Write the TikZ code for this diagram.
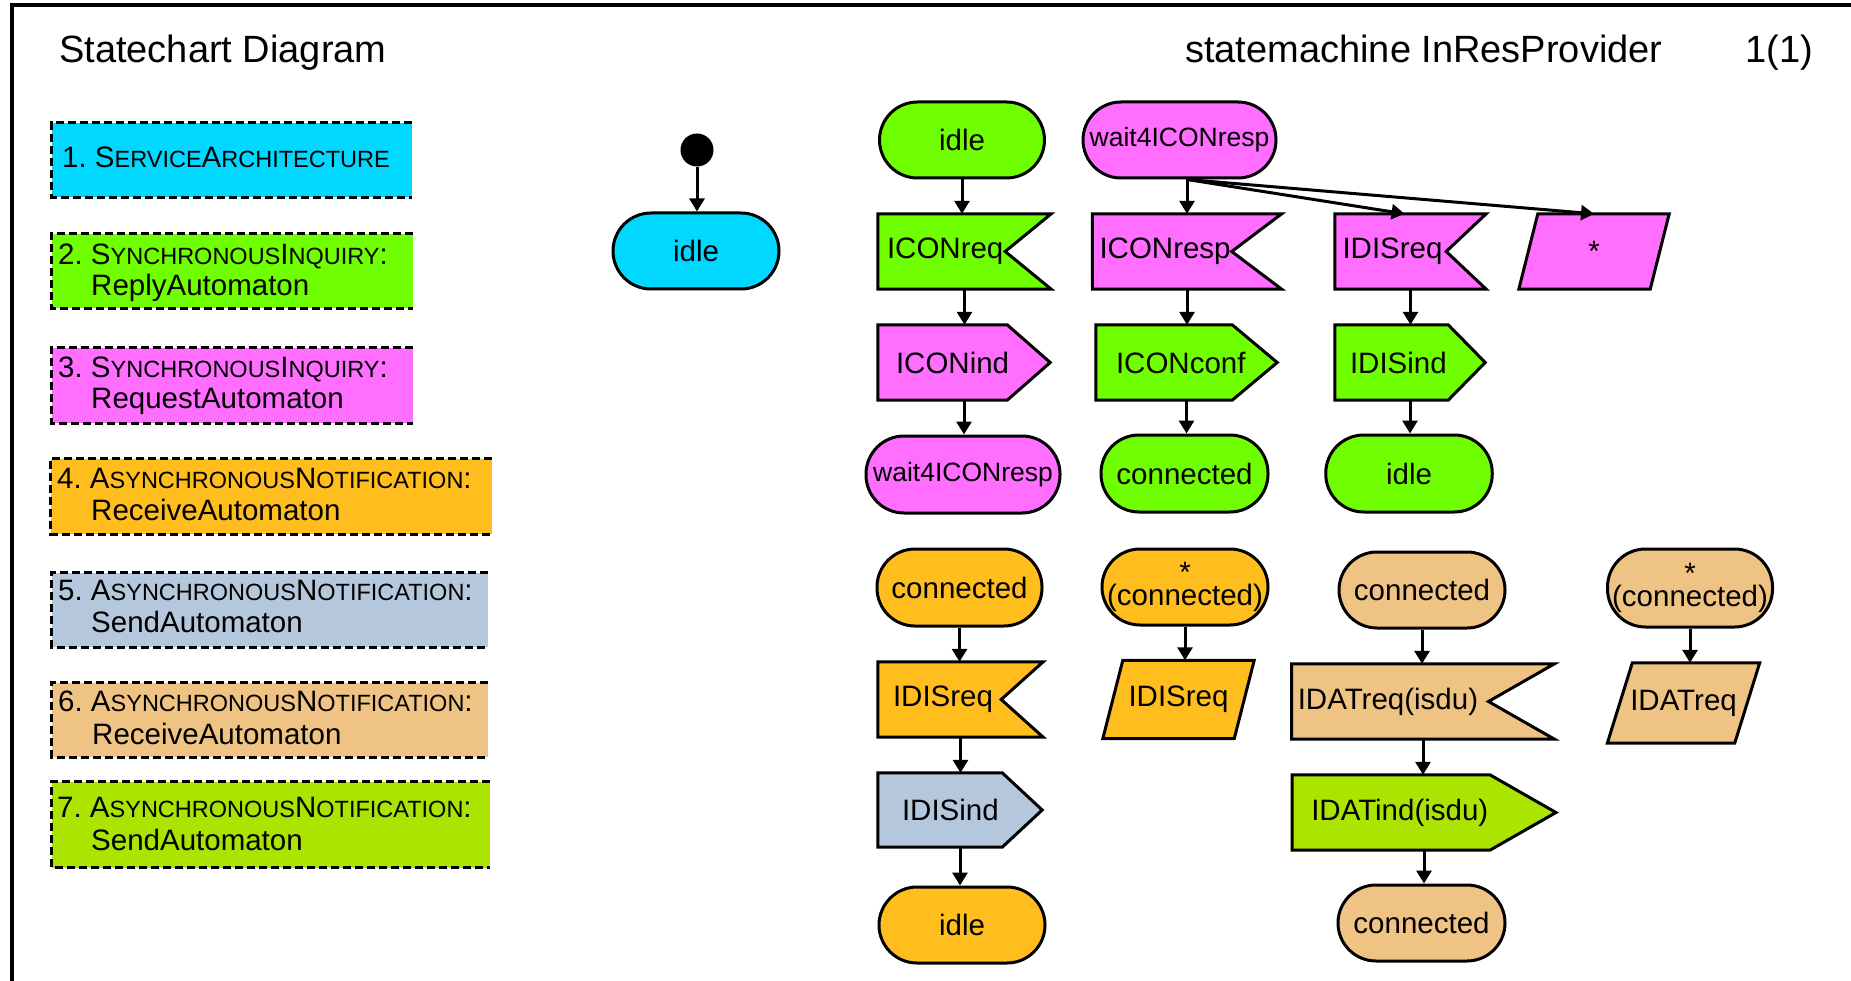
\documentclass[tikz,border=0pt]{standalone}
\usepackage{fontspec}
\setmainfont{Liberation Sans}
\usetikzlibrary{arrows.meta,backgrounds}

\definecolor{cyanF}{RGB}{0,216,255}
\definecolor{greenF}{RGB}{112,255,0}
\definecolor{magF}{RGB}{255,110,255}
\definecolor{orangeF}{RGB}{255,190,30}
\definecolor{blueF}{RGB}{180,199,220}
\definecolor{tanF}{RGB}{238,195,131}
\definecolor{limeF}{RGB}{170,228,0}

% fake small capitals for the legend entries
\newcommand\smc[1]{{\fontsize{23.5pt}{24pt}\selectfont\MakeUppercase{#1}}}

% outlines of the signal symbols, drawn behind their text nodes
\newcommand\recvpath[3]{\draw[shapeline, fill=#3] (#1.north west) -- (#1.north east) -- ([xshift=-#2pt]#1.east) -- (#1.south east) -- (#1.south west) -- cycle;}
\newcommand\sendpath[3]{\draw[shapeline, fill=#3] (#1.north west) -- ([xshift=-#2pt]#1.north east) -- (#1.east) -- ([xshift=-#2pt]#1.south east) -- (#1.south west) -- cycle;}
\newcommand\parapath[3]{\draw[shapeline, fill=#3] (#1.south west) -- ([xshift=#2pt]#1.north west) -- (#1.north east) -- ([xshift=-#2pt]#1.south east) -- cycle;}
% vertical transition from one symbol down to the next
\newcommand\down[2]{\draw[arr] (#1.south) -- (#1.south |- #2.north);}

\begin{document}
\begin{tikzpicture}[x=1pt,y=-1pt,
  lbl/.style={font=\fontsize{29.5pt}{31pt}\selectfont},
  stadium/.style={draw, line width=3pt, inner sep=0pt, minimum height=76pt, rounded corners=38pt, lbl},
  sig/.style={inner sep=0pt, minimum height=75pt, text width=#1, align=left, lbl},
  para/.style={inner sep=0pt, lbl},
  twoline/.style={align=center, font=\fontsize{29.5pt}{21pt}\selectfont},
  small/.style={font=\fontsize{26.5pt}{28pt}\selectfont},
  shapeline/.style={draw, line width=3pt, line join=miter},
  arr/.style={line width=3pt, -{Triangle[length=13pt,width=15pt]}},
  legendbox/.style={inner sep=0pt},
  legendedge/.style={line width=3pt, dash pattern=on 8pt off 4pt},
  legtext/.style={anchor=base west, inner sep=0pt, lbl},
  title/.style={anchor=base west, inner sep=0pt, font=\fontsize{38pt}{40pt}\selectfont}]

\useasboundingbox (0,0) rectangle (1851,981);

% frame
\draw[line width=4pt] (11.7,981) -- (11.7,5.5) -- (1851,5.5);

% header
\node[title] (t1) at (59,63) {Statechart Diagram};
\node[title] (t2) at (1185,63) {statemachine InResProvider};
\node[title] (t3) at (1745,63) {1(1)};

% legend boxes
\node[legendbox, fill=cyanF,   minimum width=360pt, minimum height=74pt] (b1) at (232,160) {};
\node[legendbox, fill=greenF,  minimum width=361pt, minimum height=74pt] (b2) at (232.5,271) {};
\node[legendbox, fill=magF,    minimum width=361pt, minimum height=75pt] (b3) at (232.5,385.5) {};
\node[legendbox, fill=orangeF, minimum width=441pt, minimum height=75pt] (b4) at (271.5,496.5) {};
\node[legendbox, fill=blueF,   minimum width=436pt, minimum height=74pt] (b5) at (270,610) {};
\node[legendbox, fill=tanF,    minimum width=436pt, minimum height=74pt] (b6) at (270,720) {};
\node[legendbox, fill=limeF,   minimum width=438pt, minimum height=86pt] (b7) at (271,824.5) {};
\foreach \b in {b1,b2,b3,b4,b5,b6,b7}
  \draw[legendedge] (\b.north east) -- (\b.north west) -- (\b.south west) -- (\b.south east);

\node[legtext] (l1)  at (62,168)    {1.\ S\smc{ervice}A\smc{rchitecture}};
\node[legtext] (l2a) at (58,265)    {2.\ S\smc{ynchronous}I\smc{nquiry}:};
\node[legtext] (l2b) at (91,296)    {ReplyAutomaton};
\node[legtext] (l3a) at (58,377)    {3.\ S\smc{ynchronous}I\smc{nquiry}:};
\node[legtext] (l3b) at (91,408)    {RequestAutomaton};
\node[legtext] (l4a) at (57,488.5)  {4.\ A\smc{synchronous}N\smc{otification}:};
\node[legtext] (l4b) at (91,520)    {ReceiveAutomaton};
\node[legtext] (l5a) at (58,600.5)  {5.\ A\smc{synchronous}N\smc{otification}:};
\node[legtext] (l5b) at (91,632)    {SendAutomaton};
\node[legtext] (l6a) at (58,711.5)  {6.\ A\smc{synchronous}N\smc{otification}:};
\node[legtext] (l6b) at (92,744)    {ReceiveAutomaton};
\node[legtext] (l7a) at (57,817)    {7.\ A\smc{synchronous}N\smc{otification}:};
\node[legtext] (l7b) at (91,850)    {SendAutomaton};

% start state
\node[circle, fill=black, inner sep=0pt, minimum size=33pt] (init) at (697,150) {};
\node[stadium, fill=cyanF, minimum width=166pt] (s0) at (696,251) {idle};

% idle -> wait4ICONresp
\node[stadium, fill=greenF, minimum width=165pt] (gidle) at (962,140) {idle};
\node[sig=173pt] (iconreq) at (964.5,251.5) {\hspace*{9pt}ICONreq};
\node[sig=172pt] (iconind) at (964,362.5) {\hspace*{18pt}ICONind};
\node[stadium, fill=magF, minimum width=194pt, minimum height=77pt, small] (waitA) at (963,474.5) {wait4ICONresp};

% wait4ICONresp
\node[stadium, fill=magF, minimum width=193pt, small] (waitB) at (1179.5,140) {wait4ICONresp};
\node[sig=189pt] (iconresp) at (1187,251.5) {\hspace*{7pt}ICONresp};
\node[sig=181pt] (iconconf) at (1186.5,362.5) {\hspace*{20pt}ICONconf};
\node[stadium, fill=greenF, minimum width=167pt, minimum height=77pt] (gconn) at (1184.5,473.5) {connected};
\node[sig=151pt] (idisreqM) at (1410.5,251.5) {\hspace*{7.5pt}IDISreq};
\node[sig=150pt] (idisindG) at (1410,362.5) {\hspace*{15pt}IDISind};
\node[stadium, fill=greenF, minimum width=166.5pt, minimum height=77pt] (gidle2) at (1409,473.5) {idle};
\node[para, minimum width=150pt, minimum height=75pt] (starM) at (1594,251.5) {*};

% connected -> idle
\node[stadium, fill=orangeF, minimum width=165pt, minimum height=77pt] (oconn) at (959.5,587.5) {connected};
\node[sig=165pt] (idisreqO) at (960.5,699.5) {\hspace*{15pt}IDISreq};
\node[sig=164pt, minimum height=74pt] (idisindB) at (960,810) {\hspace*{24pt}IDISind};
\node[stadium, fill=orangeF, minimum width=166pt] (oidle) at (962,925) {idle};

% * (connected), save IDISreq
\node[stadium, fill=orangeF, minimum width=166pt, twoline] (ostar) at (1185,587) {*\\(connected)};
\node[para, minimum width=151pt, minimum height=78pt] (idisreqP) at (1178.5,699.5) {IDISreq};

% connected -> connected
\node[stadium, fill=tanF, minimum width=166pt] (tconn) at (1422,590) {connected};
\node[sig=262.5pt] (idatreq) at (1423,701.5) {\hspace*{6pt}IDATreq(isdu)};
\node[sig=263.5pt] (idatind) at (1424,812.5) {\hspace*{19pt}IDATind(isdu)};
\node[stadium, fill=tanF, minimum width=167pt] (tconn2) at (1421.5,923) {connected};

% * (connected), save IDATreq
\node[stadium, fill=tanF, minimum width=165pt, minimum height=78pt, twoline] (tstar) at (1690,588) {*\\(connected)};
\node[para, minimum width=152pt, minimum height=80pt] (idatreqP) at (1683.5,703) {IDATreq};

% symbol outlines behind the texts
\begin{scope}[on background layer]
  \recvpath{iconreq}{46}{greenF}
  \sendpath{iconind}{43}{magF}
  \recvpath{iconresp}{50}{magF}
  \sendpath{iconconf}{45}{greenF}
  \recvpath{idisreqM}{40}{magF}
  \sendpath{idisindG}{37}{greenF}
  \parapath{starM}{19}{magF}
  \recvpath{idisreqO}{42}{orangeF}
  \sendpath{idisindB}{40}{blueF}
  \parapath{idisreqP}{20}{orangeF}
  \recvpath{idatreq}{66}{tanF}
  \sendpath{idatind}{66}{limeF}
  \parapath{idatreqP}{25}{tanF}
\end{scope}

% transitions
\down{init}{s0}
\down{gidle}{iconreq}
\down{iconreq}{iconind}
\down{iconind}{waitA}
\coordinate (fork) at (iconresp.north |- waitB.south);
\draw[arr] (fork) -- (iconresp.north);
\draw[arr] (fork) -- ([xshift=-6pt]idisreqM.north);
\draw[arr] (fork) -- (starM.north);
\down{iconresp}{iconconf}
\down{iconconf}{gconn}
\down{idisreqM}{idisindG}
\down{idisindG}{gidle2}
\down{oconn}{idisreqO}
\down{idisreqO}{idisindB}
\down{idisindB}{oidle}
\down{ostar}{idisreqP}
\down{tconn}{idatreq}
\down{idatreq}{idatind}
\down{idatind}{tconn2}
\down{tstar}{idatreqP}
\end{tikzpicture}
\end{document}
